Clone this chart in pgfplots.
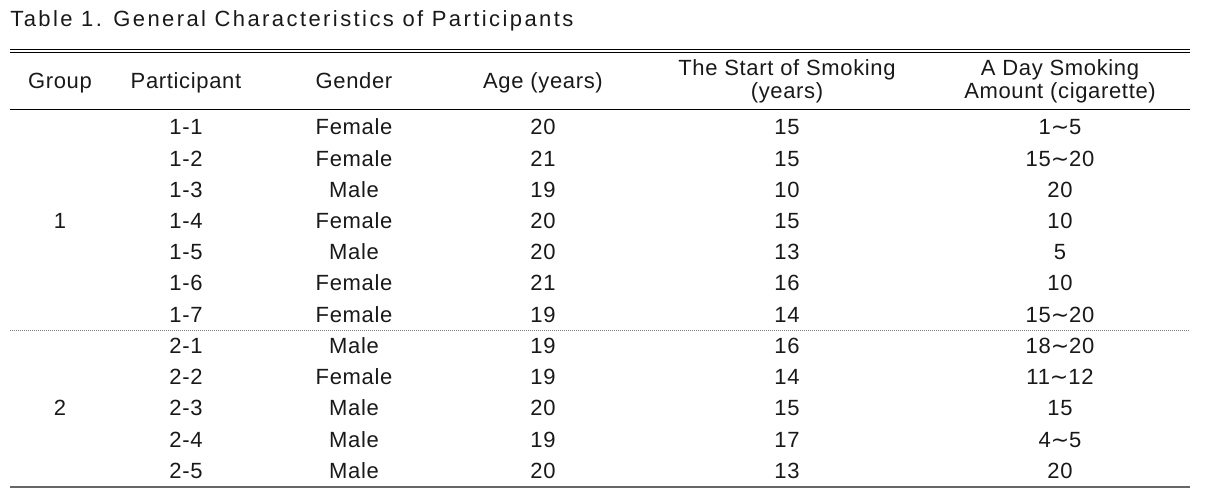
\documentclass[border=0pt]{standalone}
\usepackage{fontspec}
\setmainfont{Liberation Sans}[LetterSpace=3]
\newfontfamily\titlefont{Liberation Sans}[LetterSpace=11]
\newfontfamily\symfont{DejaVu Sans}
\newcommand{\wave}{{\symfont ∼}}
\usepackage{pgfplots}
\pgfplotsset{compat=1.18}
\usepackage{pgfplotstable}

% header cells: x centre, baseline y (pixels from top), text
\pgfplotstableread[col sep=comma]{
x,y,label
60,89,Group
186,89,Participant
354,89,Gender
543,89,Age (years)
787,76,The Start of Smoking
787,99,(years)
1060,76,A Day Smoking
1060,99,Amount (cigarette)
}\headtab

% body cells
\pgfplotstableread[col sep=comma]{
x,y,label
60,228.6,1
60,415.8,2
186,135.0,1-1
186,166.2,1-2
186,197.4,1-3
186,228.6,1-4
186,259.8,1-5
186,291.0,1-6
186,322.2,1-7
186,353.4,2-1
186,384.6,2-2
186,415.8,2-3
186,447.0,2-4
186,478.2,2-5
354,135.0,Female
354,166.2,Female
354,197.4,Male
354,228.6,Female
354,259.8,Male
354,291.0,Female
354,322.2,Female
354,353.4,Male
354,384.6,Female
354,415.8,Male
354,447.0,Male
354,478.2,Male
543,135.0,20
543,166.2,21
543,197.4,19
543,228.6,20
543,259.8,20
543,291.0,21
543,322.2,19
543,353.4,19
543,384.6,19
543,415.8,20
543,447.0,19
543,478.2,20
787,135.0,15
787,166.2,15
787,197.4,10
787,228.6,15
787,259.8,13
787,291.0,16
787,322.2,14
787,353.4,16
787,384.6,14
787,415.8,15
787,447.0,17
787,478.2,13
1060,135.0,{1\wave{}5}
1060,166.2,{15\wave{}20}
1060,197.4,20
1060,228.6,10
1060,259.8,5
1060,291.0,10
1060,322.2,{15\wave{}20}
1060,353.4,{18\wave{}20}
1060,384.6,{11\wave{}12}
1060,415.8,15
1060,447.0,{4\wave{}5}
1060,478.2,20
}\bodytab

\begin{document}
\begin{tikzpicture}
\begin{axis}[
  hide axis, scale only axis,
  width=604pt, height=245.5pt,
  xmin=0, xmax=1208, ymin=0, ymax=491, y dir=reverse,
  clip=false,
  nodes near coords align={anchor=base},
  every node near coord/.append style={inner sep=0pt, anchor=base,
    font=\fontsize{11}{13}\selectfont, text=black!90},
]
% keep the page the full size
\addplot[draw=none] coordinates {(0,0)(1208,491)};

% rules
\addplot[black, line width=0.5pt] coordinates {(10,50)(1190,50)};
\addplot[black, line width=0.5pt] coordinates {(10,53)(1190,53)};
\addplot[black, line width=0.5pt] coordinates {(10,110)(1190,110)};
\addplot[gray, line width=0.4pt, dash pattern=on 0.5pt off 0.5pt] coordinates {(10,330)(1190,330)};
\addplot[black!60, line width=1pt] coordinates {(10,487)(1190,487)};

% title
\addplot[draw=none, mark=none, nodes near coords, point meta=explicit symbolic,
  every node near coord/.append style={anchor=base west,
    font=\titlefont\fontsize{11}{13}\selectfont}]
  coordinates {(10,27) [{Table 1. General Characteristics of Participants}]};

\addplot[draw=none, mark=none, nodes near coords, point meta=explicit symbolic]
  table[x=x, y=y, meta=label] {\headtab};
\addplot[draw=none, mark=none, nodes near coords, point meta=explicit symbolic]
  table[x=x, y=y, meta=label] {\bodytab};
\end{axis}
\end{tikzpicture}
\end{document}
